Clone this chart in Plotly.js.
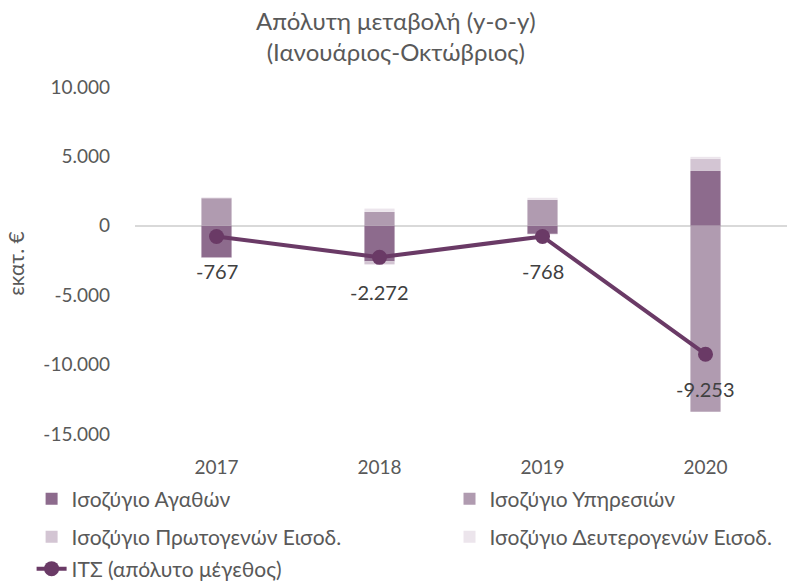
<!DOCTYPE html>
<html>
<head>
<meta charset="utf-8">
<script src="https://cdn.plot.ly/plotly-3.0.1.min.js"></script>
<style>html,body{margin:0;padding:0;background:#fff;}#chart{width:790px;height:583px;}</style>
</head>
<body>
<div id="chart"></div>
<script>
const years = ['2017', '2018', '2019', '2020'];
const goods = [-2280, -2550, -580, 3950];
const services = [1990, 1000, 1870, -13400];
const primary = [-30, -230, -30, 880];
const secondary = [60, 240, 150, 140];
const cab = [-767, -2272, -768, -9253];
const cabLabels = ['-767', '-2.272', '-768', '-9.253'];
const tickVals = [-15000, -10000, -5000, 0, 5000, 10000];
const tickText = ['-15.000', '-10.000', '-5.000', '0', '5.000', '10.000'];

const FONT = 'Lato, "Open Sans", sans-serif';
const GREY = '#595959';

function bar(name, y, color, legend) {
  return {type: 'bar', name: name, x: years, y: y, marker: {color: color, line: {width: 0}},
          legend: legend, hoverinfo: 'skip'};
}
const traces = [
  bar('Ισοζύγιο Αγαθών', goods, '#8d6b8d', 'legend'),
  bar('Ισοζύγιο Υπηρεσιών', services, '#b09bb0', 'legend2'),
  bar('Ισοζύγιο Πρωτογενών Εισοδ.', primary, '#d3c5d3', 'legend3'),
  bar('Ισοζύγιο Δευτερογενών Εισοδ.', secondary, '#ece5ec', 'legend4'),
  {type: 'scatter', mode: 'lines+markers', name: 'ΙΤΣ (απόλυτο μέγεθος)', x: years, y: cab,
   line: {color: '#6a3a66', width: 4}, marker: {color: '#6a3a66', size: 15},
   legend: 'legend5', hoverinfo: 'skip'}
];

const annotations = years.map((yr, i) => ({
  x: i, y: cab[i], xref: 'x', yref: 'y', text: cabLabels[i], showarrow: false,
  yshift: -35, font: {family: FONT, size: 20, color: '#404040'}
}));
annotations.push({
  text: 'εκατ. €', xref: 'paper', yref: 'paper', x: -0.183, y: 0.49,
  xanchor: 'center', yanchor: 'middle',
  textangle: -90, showarrow: false, font: {family: FONT, size: 21, color: GREY}
});

function leg(x, y) {
  return {xref: 'container', yref: 'container', x: x, y: y, xanchor: 'left', yanchor: 'middle',
          orientation: 'h', bgcolor: 'rgba(0,0,0,0)', font: {family: FONT, size: 21, color: GREY}};
}

const layout = {
  width: 790, height: 583,
  margin: {l: 135, r: 3, t: 87, b: 149},
  paper_bgcolor: '#fff', plot_bgcolor: '#fff',
  font: {family: FONT, color: GREY},
  title: {text: 'Απόλυτη μεταβολή (y-o-y)<br>(Ιανουάριος-Οκτώβριος)', x: 0.501, xanchor: 'center',
          y: 1 - 30 / 583, yanchor: 'middle', font: {family: FONT, size: 24, color: GREY}},
  barmode: 'relative', bargap: 0.815,
  xaxis: {type: 'category', showgrid: false, zeroline: false, showline: false, ticks: '',
          ticklabelstandoff: 20, tickfont: {family: FONT, size: 19, color: GREY}, fixedrange: true},
  yaxis: {range: [-15000, 10000], tickvals: tickVals, ticktext: tickText, showgrid: false,
          zeroline: true, zerolinecolor: '#d9d9d9', zerolinewidth: 2, showline: false, ticks: '',
          ticklabelstandoff: 24, tickfont: {family: FONT, size: 19, color: GREY}, fixedrange: true},
  annotations: annotations,
  showlegend: true,
  legend: leg(0.040, 1 - 499 / 583),
  legend2: leg(0.569, 1 - 499 / 583),
  legend3: leg(0.040, 1 - 537 / 583),
  legend4: leg(0.569, 1 - 537 / 583),
  legend5: leg(0.040, 1 - 569 / 583)
};

Plotly.newPlot('chart', traces, layout, {displayModeBar: false, staticPlot: true});
</script>
</body>
</html>
